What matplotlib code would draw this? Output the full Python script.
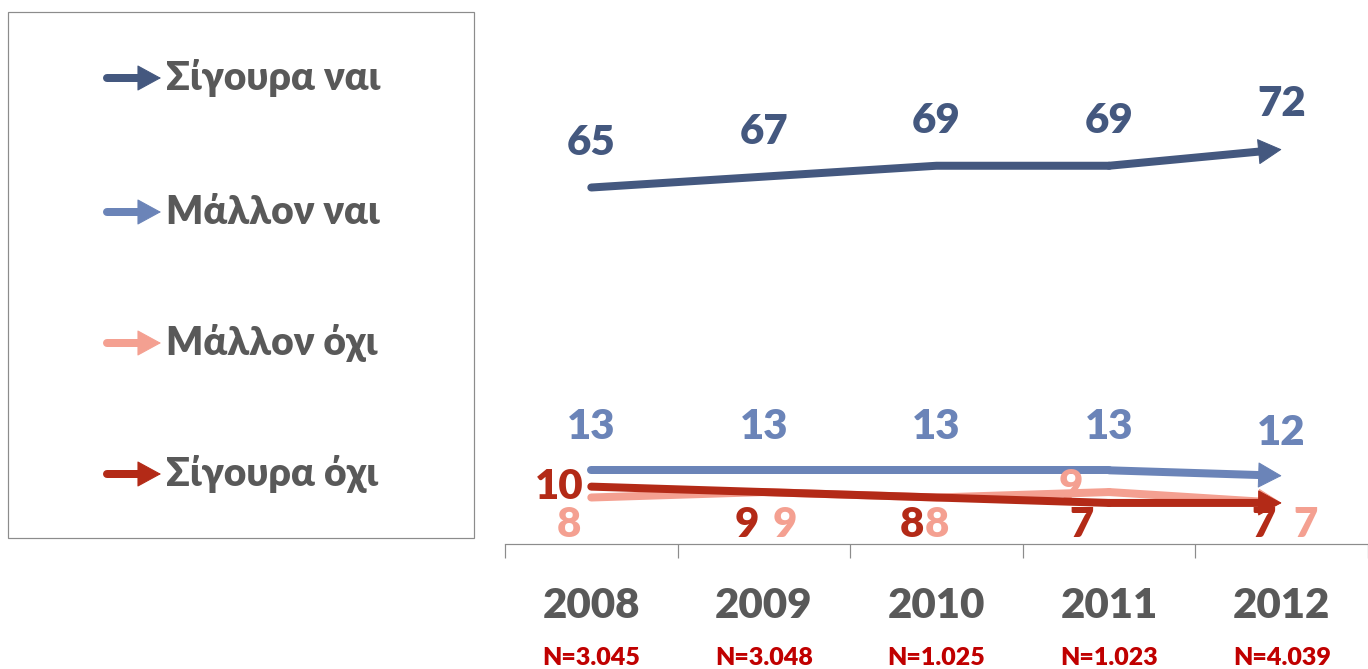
import matplotlib
matplotlib.use("Agg")
import matplotlib.pyplot as plt
from matplotlib.patches import Rectangle

years = ["2008", "2009", "2010", "2011", "2012"]
sample_sizes = ["N=3.045", "N=3.048", "N=1.025", "N=1.023", "N=4.039"]

series_names = ["Σίγουρα ναι", "Μάλλον ναι", "Μάλλον όχι", "Σίγουρα όχι"]
sigoura_nai = [65, 67, 69, 69, 72]
mallon_nai = [13, 13, 13, 13, 12]
mallon_oxi = [8, 9, 8, 9, 7]
sigoura_oxi = [10, 9, 8, 7, 7]

colors = ["#44587f", "#6b84b8", "#f4a091", "#b32a17"]
text_grey = "#595959"
n_red = "#c00000"
FONT = ["Lato", "Open Sans", "DejaVu Sans"]
WEIGHT = "heavy"

DPI = 72
fig = plt.figure(figsize=(1368 / DPI, 669 / DPI), dpi=DPI)

# main axes, placed in pixel terms
L, R, T, B = 505, 1368, 20, 544
ax = fig.add_axes([L / 1368, (669 - B) / 669, (R - L) / 1368, (B - T) / 669])
ax.set_xlim(-0.5, 4.46)
ax.set_ylim(-0.55, 95.8)
for s in ["top", "right", "left"]:
    ax.spines[s].set_visible(False)
ax.spines["bottom"].set_color("#8c8c8c")
ax.spines["bottom"].set_linewidth(1.2)
ax.set_yticks([])
ax.set_xticks([i - 0.5 for i in range(len(years) + 1)])
ax.set_xticklabels([])
ax.tick_params(axis="x", direction="out", length=14, width=1.2, color="#8c8c8c")

x = list(range(len(years)))
LW = 8
HEAD = "-|>,head_length=1.1,head_width=0.6"


def arrow_seg(axis, tip, tail, color, zorder=3):
    # thick shaft stopping inside the head, then a sharp filled head
    axis.annotate("", xy=tip, xytext=tail,
                  arrowprops=dict(arrowstyle="-", color=color, lw=LW,
                                  shrinkA=0, shrinkB=14, capstyle="round"),
                  zorder=zorder)
    axis.annotate("", xy=tip, xytext=tail,
                  arrowprops=dict(arrowstyle=HEAD, mutation_scale=20, color=color,
                                  lw=1, shrinkA=0, shrinkB=0),
                  zorder=zorder)


def arrow_line(axis, xs, ys, color, zorder):
    axis.plot(xs[:-1], ys[:-1], color=color, lw=LW, solid_capstyle="round",
              solid_joinstyle="round", zorder=zorder)
    arrow_seg(axis, (xs[-1], ys[-1]), (xs[-2], ys[-2]), color, zorder)


# draw order: pink below red
arrow_line(ax, x, mallon_nai, colors[1], 3)
arrow_line(ax, x, mallon_oxi, colors[2], 3)
arrow_line(ax, x, sigoura_oxi, colors[3], 4)
arrow_line(ax, x, sigoura_nai, colors[0], 3)

lab_kw = dict(textcoords="offset points", ha="center", va="center",
              fontsize=42, fontweight=WEIGHT, family=FONT, annotation_clip=False)

for i, v in enumerate(sigoura_nai):
    ax.annotate(str(v), xy=(i, v), xytext=(0, 45), color=colors[0], **lab_kw)
for i, v in enumerate(mallon_nai):
    ax.annotate(str(v), xy=(i, v), xytext=(0, 43), color=colors[1], **lab_kw)

ROW = 2.9  # label row just above the axis
oxi_dx = [-22, 21, 0, -38, 24]
for i, v in enumerate(mallon_oxi):
    if i == 3:
        ax.annotate(str(v), xy=(i, v), xytext=(oxi_dx[i], 5), color=colors[2], **lab_kw)
    else:
        ax.annotate(str(v), xy=(i, ROW), xytext=(oxi_dx[i], 0), color=colors[2], **lab_kw)

sig_oxi_dx = [-32, -17, -25, -28, -18]
for i, v in enumerate(sigoura_oxi):
    if i == 0:
        ax.annotate(str(v), xy=(i, v), xytext=(sig_oxi_dx[i], 0), color=colors[3], **lab_kw)
    else:
        ax.annotate(str(v), xy=(i, ROW), xytext=(sig_oxi_dx[i], 0), color=colors[3], **lab_kw)

# category labels
for i, (yr, n) in enumerate(zip(years, sample_sizes)):
    ax.annotate(yr, xy=(i, 0), xycoords=("data", "axes fraction"), xytext=(0, -62),
                textcoords="offset points", ha="center", va="center", fontsize=42,
                fontweight=WEIGHT, color=text_grey, family=FONT, annotation_clip=False)
    ax.annotate(n, xy=(i, 0), xycoords=("data", "axes fraction"), xytext=(0, -114),
                textcoords="offset points", ha="center", va="center", fontsize=25,
                fontweight=WEIGHT, color=n_red, family=FONT, annotation_clip=False)

# legend box drawn by hand in pixel coordinates
lax = fig.add_axes([0, 0, 1, 1])
lax.set_xlim(0, 1368)
lax.set_ylim(669, 0)
lax.axis("off")
lax.add_patch(Rectangle((8, 12), 466, 526, fill=False, edgecolor="#8c8c8c", lw=1.2))
leg_y = [78, 212, 343, 474]
for name, c, yy in zip(series_names, colors, leg_y):
    arrow_seg(lax, (161, yy), (107, yy), c)
    lax.text(166, yy, name, ha="left", va="center", fontsize=39, fontweight=WEIGHT,
             color=text_grey, family=FONT)

fig.savefig("out.png", dpi=DPI)
